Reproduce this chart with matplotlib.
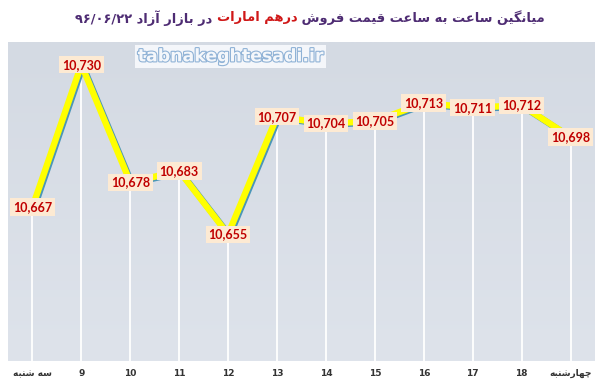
import matplotlib
matplotlib.use("Agg")
import matplotlib.pyplot as plt
import matplotlib.patheffects as pe
import numpy as np
from matplotlib.colors import LinearSegmentedColormap

# ---------------- data ----------------
categories = ["سه شنبه", "9", "10", "11", "12", "13", "14", "15", "16", "17", "18", "چهارشنبه"]
values = [10667, 10730, 10678, 10683, 10655, 10707, 10704, 10705, 10713, 10711, 10712, 10698]
title_part1 = "میانگین ساعت به ساعت قیمت فروش "
title_part2 = "درهم امارات"
title_part3 = " در بازار آزاد "
title_date = "۹۶/۰۶/۲۲"
watermark = "tabnakeghtesadi.ir"

# ------------- minimal Persian shaping (presentation forms) -------------
FORMS = {
    "\u0627": ("\uFE8D", "\uFE8E", None, None),
    "\u0622": ("\uFE81", "\uFE82", None, None),
    "\u062F": ("\uFEA9", "\uFEAA", None, None),
    "\u0631": ("\uFEAD", "\uFEAE", None, None),
    "\u0632": ("\uFEAF", "\uFEB0", None, None),
    "\u0648": ("\uFEED", "\uFEEE", None, None),
    "\u0628": ("\uFE8F", "\uFE90", "\uFE91", "\uFE92"),
    "\u062A": ("\uFE95", "\uFE96", "\uFE97", "\uFE98"),
    "\u0633": ("\uFEB1", "\uFEB2", "\uFEB3", "\uFEB4"),
    "\u0634": ("\uFEB5", "\uFEB6", "\uFEB7", "\uFEB8"),
    "\u0639": ("\uFEC9", "\uFECA", "\uFECB", "\uFECC"),
    "\u0641": ("\uFED1", "\uFED2", "\uFED3", "\uFED4"),
    "\u0642": ("\uFED5", "\uFED6", "\uFED7", "\uFED8"),
    "\u0645": ("\uFEE1", "\uFEE2", "\uFEE3", "\uFEE4"),
    "\u0646": ("\uFEE5", "\uFEE6", "\uFEE7", "\uFEE8"),
    "\u0647": ("\uFEE9", "\uFEEA", "\uFEEB", "\uFEEC"),
    "\u06CC": ("\uFBFC", "\uFBFD", "\uFBFE", "\uFBFF"),
    "\u06AF": ("\uFB92", "\uFB93", "\uFB94", "\uFB95"),
    "\u0686": ("\uFB7A", "\uFB7B", "\uFB7C", "\uFB7D"),
}


def dual(c):
    return c in FORMS and FORMS[c][2] is not None


def joins(c):
    return c in FORMS


def shape_rtl(s):
    out = []
    n = len(s)
    for i, c in enumerate(s):
        if c not in FORMS:
            out.append(c)
            continue
        prev = s[i - 1] if i > 0 else ""
        nxt = s[i + 1] if i < n - 1 else ""
        jp = dual(prev) and joins(c)
        jn = dual(c) and joins(nxt)
        iso, fin, ini, med = FORMS[c]
        if jp and jn:
            out.append(med)
        elif jp:
            out.append(fin)
        elif jn:
            out.append(ini)
        else:
            out.append(iso)
    return "".join(out)[::-1]


def rtl_label(s):
    if all(ch.isascii() for ch in s):
        return s
    return shape_rtl(s)


# ---------------- figure ----------------
W, H = 600, 382
fig = plt.figure(figsize=(W / 100, H / 100), dpi=100)
fig.patch.set_facecolor("white")

left, right, top, bottom = 8, 595, 42, 361
ax = fig.add_axes([left / W, (H - bottom) / H, (right - left) / W, (bottom - top) / H])

# background gradient
grad = np.linspace(0, 1, 256).reshape(-1, 1)
cmap = LinearSegmentedColormap.from_list("bg", ["#dee3eb", "#d4dae3"])
ax.imshow(grad, aspect="auto", cmap=cmap, extent=[0, 1, 0, 1],
          transform=ax.transAxes, origin="lower", zorder=0)

x = np.arange(len(categories))
ax.set_xlim(-0.5, len(categories) - 0.5)
ax.set_ylim(10599, 10740)

# drop lines
ax.vlines(x, 10599, values, colors="white", lw=1.3, zorder=1)

# line with blue shadow
ax.plot(x, values, color="#ffff00", lw=4.6, solid_joinstyle="round", solid_capstyle="round",
        zorder=2,
        path_effects=[pe.Stroke(linewidth=4.6, foreground="#4a96b8", offset=(1.1, -0.9)),
                      pe.Normal()])

# data labels
for xi, v in zip(x, values):
    ax.text(xi, v, f"{v:,}", ha="center", va="center", fontsize=9, fontweight="bold",
            family="Lato", color="#c00000", zorder=4,
            bbox=dict(boxstyle="square,pad=0.22", facecolor="#fdead3", edgecolor="none"))

for s in ax.spines.values():
    s.set_visible(False)
ax.set_yticks([])
ax.set_xticks(x)
ax.set_xticklabels([rtl_label(c) for c in categories], fontsize=6.5, fontweight="bold",
                   color="#333333", family=["DejaVu Sans"])
ax.tick_params(axis="x", length=0, pad=6)

# watermark
ax.text(0.221, 0.955, watermark, transform=ax.transAxes, ha="left", va="center",
        fontsize=12.5, fontweight="bold", family="DejaVu Sans", color="#f4f7fb", zorder=3,
        bbox=dict(boxstyle="square,pad=0.15", facecolor="#f4f6fa", edgecolor="none"),
        path_effects=[pe.withStroke(linewidth=1.6, foreground="#8fb2d6")])

# title (visual order left to right)
purple = "#4e2c73"
red = "#d01818"
tfont = dict(fontsize=9.4, fontweight="bold", family="DejaVu Sans", va="center")
seg1 = title_date + shape_rtl(title_part3)
seg2 = shape_rtl(title_part2)
seg3 = shape_rtl(title_part1)

ty = 1 - 18 / H
t1 = fig.text(73 / W, ty, seg1, ha="left", color=purple, **tfont)
t2 = fig.text(0, ty, seg2, ha="left", color=red, **tfont)
t3 = fig.text(0, ty, seg3, ha="left", color=purple, **tfont)
fig.canvas.draw()
r = fig.canvas.get_renderer()
b1 = t1.get_window_extent(r)
t2.set_position((b1.x1 / W, ty))
fig.canvas.draw()
b2 = t2.get_window_extent(r)
t3.set_position((b2.x1 / W, ty))
fig.canvas.draw()
b3 = t3.get_window_extent(r)
total = b3.x1 - b1.x0
shift = (310 - total / 2) - b1.x0
for t in (t1, t2, t3):
    px, py = t.get_position()
    t.set_position((px + shift / W, py))

fig.savefig("out.png", dpi=100)
